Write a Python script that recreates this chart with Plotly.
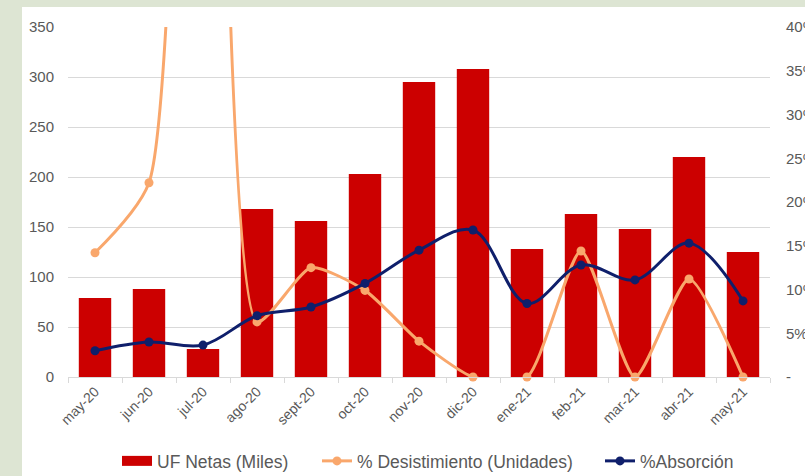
import plotly.graph_objects as go

# Monthly sales figures
months = ["may-20", "jun-20", "jul-20", "ago-20", "sept-20", "oct-20", "nov-20",
          "dic-20", "ene-21", "feb-21", "mar-21", "abr-21", "may-21"]
uf_netas = [79, 88, 28, 168, 156, 203, 295, 308, 128, 163, 148, 220, 125]
desistimiento = [14.2, 22.2, 200.0, 6.3, 12.5, 9.9, 4.1, 0.0, 0.0, 14.4, 0.0, 11.2, 0.0]
absorcion = [3.0, 4.0, 3.65, 7.0, 8.0, 10.7, 14.5, 16.8, 8.4, 12.8, 11.1, 15.3, 8.7]

left_ticks = [0, 50, 100, 150, 200, 250, 300, 350]
right_ticks = [0, 5, 10, 15, 20, 25, 30, 35, 40]
right_labels = ["-"] + [f"{v}%" for v in right_ticks[1:]]

RED = "#cc0000"
ORANGE = "#f9a76c"
NAVY = "#0f1f6b"
GREY = "#595959"
FONT = "Liberation Sans, Arial, sans-serif"

# plot area in pixels
L, R, T, B = 68, 35, 27, 99
PW, PH = 805 - L - R, 476 - T - B


def px_x(x):
    return (x - L) / PW


def px_y(y):
    return (476 - B - y) / PH


fig = go.Figure()

fig.add_trace(go.Bar(
    x=months, y=uf_netas, name="UF Netas (Miles)",
    marker=dict(color=RED, line=dict(width=0)),
    showlegend=False, yaxis="y",
))
# wide legend key for the bar series
fig.add_trace(go.Scatter(
    x=[None], y=[None], mode="lines", name="UF Netas (Miles)",
    line=dict(color=RED, width=10), yaxis="y", legend="legend",
))
fig.add_trace(go.Scatter(
    x=months, y=desistimiento, name="% Desistimiento (Unidades)",
    mode="lines+markers", line=dict(color=ORANGE, width=3, shape="spline", smoothing=0.6),
    marker=dict(color=ORANGE, size=9), yaxis="y2", cliponaxis=False, legend="legend2",
))
fig.add_trace(go.Scatter(
    x=months, y=absorcion, name="%Absorción",
    mode="lines+markers", line=dict(color=NAVY, width=3, shape="spline", smoothing=1),
    marker=dict(color=NAVY, size=9), yaxis="y2", cliponaxis=False, legend="legend3",
))

legend_common = dict(
    orientation="h", y=px_y(461), yanchor="middle", xanchor="left",
    font=dict(size=17.5, color=GREY), bgcolor="rgba(0,0,0,0)",
)

fig.update_layout(
    width=805, height=476,
    margin=dict(l=L, r=R, t=T, b=B, autoexpand=False),
    paper_bgcolor="#dde5d3",
    plot_bgcolor="white",
    font=dict(family=FONT, color=GREY, size=15),
    bargap=0.4,
    shapes=[dict(type="rect", xref="paper", yref="paper",
                 x0=px_x(22), x1=px_x(805), y0=px_y(476), y1=px_y(7),
                 fillcolor="white", line=dict(width=0), layer="below")],
    xaxis=dict(
        range=[-0.5, len(months) - 0.5],
        tickangle=-45, showgrid=False, showline=True, linecolor="#d9d9d9", linewidth=1,
        ticks="outside", tickson="boundaries", ticklen=5, tickcolor="#d9d9d9",
        tickfont=dict(size=14, color=GREY), automargin=False,
    ),
    yaxis=dict(
        range=[0, 350], tickvals=left_ticks, showgrid=True, gridcolor="#d9d9d9",
        gridwidth=1, zeroline=False, showline=False, ticks="", ticklabelstandoff=13,
        tickfont=dict(size=15, color=GREY), automargin=False,
    ),
    yaxis2=dict(
        range=[0, 40], overlaying="y", side="right", tickvals=right_ticks,
        ticktext=right_labels, showgrid=False, zeroline=False, showline=False,
        ticks="", ticklabelstandoff=15, tickfont=dict(size=15, color=GREY),
        automargin=False,
    ),
    legend=dict(x=px_x(117), **legend_common),
    legend2=dict(x=px_x(317), **legend_common),
    legend3=dict(x=px_x(600), **legend_common),
)

fig.write_html("out.html")
